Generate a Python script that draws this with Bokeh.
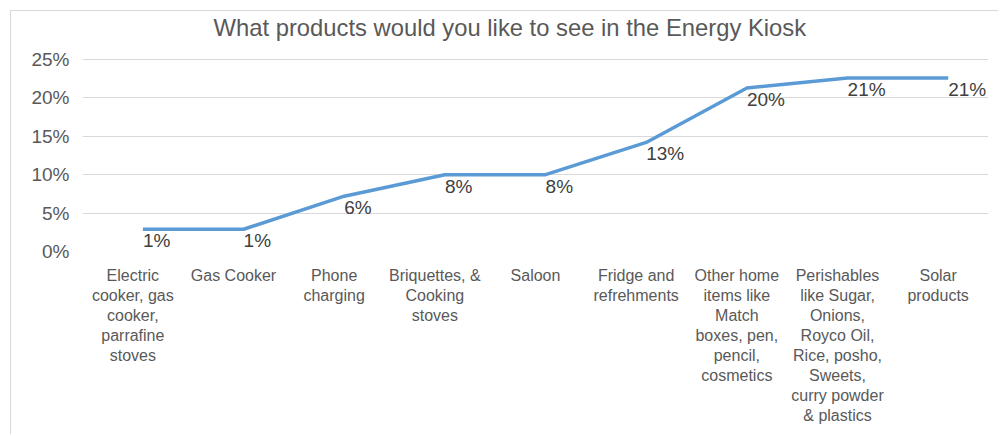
from bokeh.plotting import figure
from bokeh.models import Range1d, FixedTicker, ColumnDataSource, NumeralTickFormatter
from bokeh.transform import dodge
from bokeh.core.properties import value
from bokeh.embed import file_html
from bokeh.resources import INLINE

title_text = "What products would you like to see in the Energy Kiosk"

categories = [
    "Electric\ncooker, gas\ncooker,\nparrafine\nstoves",
    "Gas Cooker",
    "Phone\ncharging",
    "Briquettes, &\nCooking\nstoves",
    "Saloon",
    "Fridge and\nrefrehments",
    "Other home\nitems like\nMatch\nboxes, pen,\npencil,\ncosmetics",
    "Perishables\nlike Sugar,\nOnions,\nRoyco Oil,\nRice, posho,\nSweets,\ncurry powder\n& plastics",
    "Solar\nproducts",
]
values = [0.029, 0.029, 0.072, 0.100, 0.100, 0.142, 0.213, 0.226, 0.226]
value_labels = ["1%", "1%", "6%", "8%", "8%", "13%", "20%", "21%", "21%"]
y_ticks = [0, 0.05, 0.10, 0.15, 0.20, 0.25]

FONT = "Liberation Sans"
GREY = "#595959"

# frame extends a little above the 25% gridline so the title sits high
y_top = 0.25 * (251 - 40) / (251 - 59)

src = ColumnDataSource(dict(cat=categories, val=values, lab=value_labels))

p = figure(
    x_range=categories, y_range=Range1d(0, y_top),
    width=988, height=424,
    output_backend="svg", toolbar_location=None,
    min_border_left=71, min_border_right=11,
    min_border_top=0, min_border_bottom=184,
)
p.styles = {
    "margin-left": "10px", "margin-top": "10px",
    "border-left": "1px solid #d9d9d9", "border-top": "1px solid #d9d9d9",
}

p.title.text = title_text
p.title.align = "left"
p.title.offset = 131
p.title.standoff = 0
p.title.text_font = FONT
p.title.text_font_size = "23.8px"
p.title.text_font_style = "normal"
p.title.text_color = GREY

p.outline_line_color = None
p.xgrid.grid_line_color = None
p.ygrid.ticker = FixedTicker(ticks=y_ticks)
p.ygrid.grid_line_color = "#d9d9d9"
p.ygrid.grid_line_width = 1

p.yaxis.ticker = FixedTicker(ticks=y_ticks)
p.yaxis.formatter = NumeralTickFormatter(format="0%")
p.yaxis.axis_line_color = None
p.yaxis.major_tick_line_color = None
p.yaxis.minor_tick_line_color = None
p.yaxis.major_label_standoff = 7
p.yaxis.major_label_text_font = FONT
p.yaxis.major_label_text_font_size = "19px"
p.yaxis.major_label_text_color = GREY

p.xaxis.axis_line_color = None
p.xaxis.major_tick_line_color = None
p.xaxis.major_label_standoff = 9
p.xaxis.major_label_text_font = FONT
p.xaxis.major_label_text_font_size = "16px"
p.xaxis.major_label_text_color = GREY
p.xaxis.major_label_text_line_height = 1.18

xpos = dodge("cat", 0.1, range=p.x_range)
p.line(x=xpos, y="val", source=src, line_color="#5B9BD5", line_width=3.5, line_join="round")
p.text(x=xpos, y="val", text="lab", source=src,
       text_font=value(FONT), text_font_size="19px", text_color="#404040",
       text_align="left", text_baseline="top", y_offset=1)

open("out.html", "w").write(file_html(p, INLINE))
